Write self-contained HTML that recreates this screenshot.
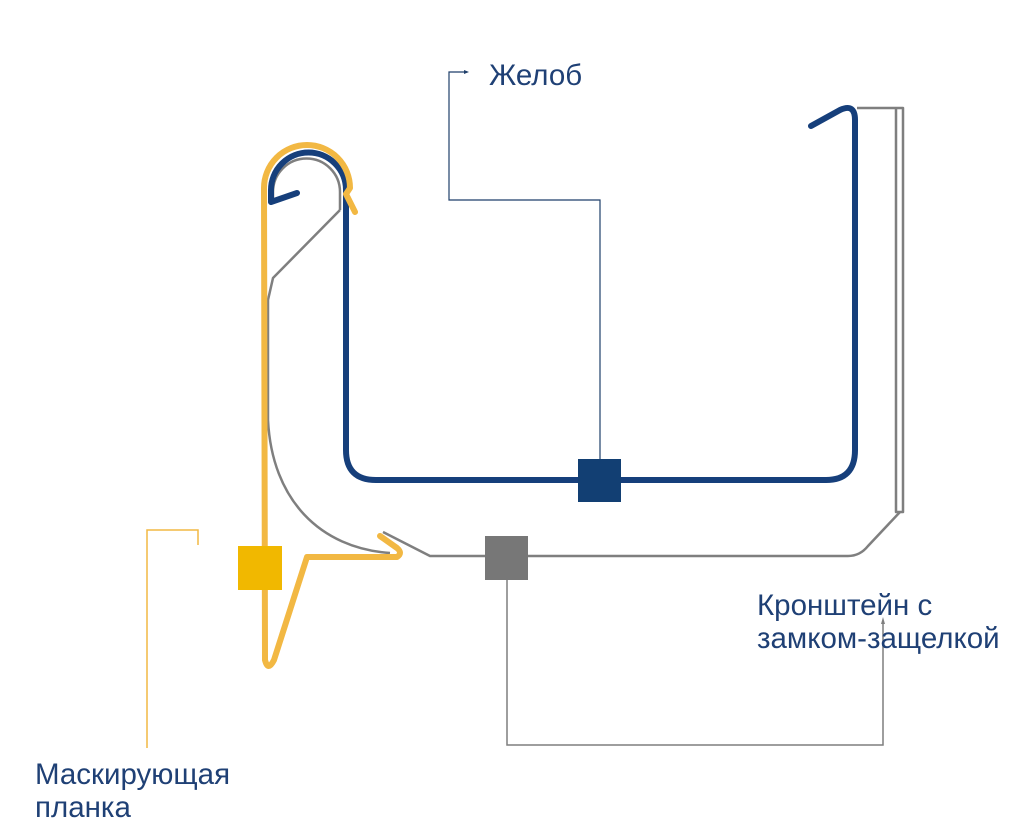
<!DOCTYPE html>
<html><head><meta charset="utf-8"><style>
html,body{margin:0;padding:0;background:#fff;}
svg{display:block;}
text{font-family:"Liberation Sans",sans-serif;fill:#1f4075;}
</style></head><body>
<svg width="1024" height="828" viewBox="0 0 1024 828" xmlns="http://www.w3.org/2000/svg">
<!-- gray bracket -->
<g fill="none" stroke="#7f7f7f" stroke-width="2.5" stroke-linejoin="round">
<path d="M340,210 L340,192 A33.5,33.5 0 0 0 273,192 L273,200"/>
<path d="M340,210 L273,278 L268,300 L268,420 C272,500 320,548 390,553"/>
<path d="M383,532 L430,556 L848,556 Q860,556 868,546 L900,512"/>
<path d="M857,108 L903,108 L903,512 L896,512 L896,108"/>
</g>
<!-- blue gutter -->
<path d="M297,193 L271,202 L271,190 A37.5,37.5 0 0 1 346,190 L346,450 Q346,480 376,480 L826,480 Q855,480 855,450 L855,120 Q855,103 840,110 L811,126" fill="none" stroke="#163f7b" stroke-width="6" stroke-linecap="round" stroke-linejoin="round"/>
<!-- yellow strip -->
<path d="M355,212 L346,194 L350,188 A43,43 0 0 0 264,188 L265,660 Q268,672 274,660 L307,557 L397,557 Q403,553 397,548 L380,536" fill="none" stroke="#f2b843" stroke-width="6" stroke-linecap="round" stroke-linejoin="round"/>
<!-- boxes -->
<rect x="238" y="546" width="44" height="44" fill="#f1b800"/>
<rect x="578" y="459" width="43" height="43" fill="#123f73"/>
<rect x="485" y="536" width="43" height="44" fill="#777"/>
<!-- connectors -->
<path d="M600,459 L600,200 L449,200 L449,72 L467,72" fill="none" stroke="#1f3f6a" stroke-width="1.2"/>
<path d="M464,70 L469,72 L464,74 Z" fill="#1f3f6a"/>
<path d="M507,580 L507,745 L883,745 L883,622" fill="none" stroke="#7f7f7f" stroke-width="1.5"/>
<path d="M881,624 L883,617 L885,624 Z" fill="#7f7f7f"/>
<path d="M198,545 L198,530 L147,530 L147,748" fill="none" stroke="#f2b843" stroke-width="1.5"/>
<!-- labels -->
<text x="489" y="85" font-size="29.5">Желоб</text>
<text x="757" y="615" font-size="29.5">Кронштейн с</text>
<text x="757" y="648" font-size="29.5">замком-защелкой</text>
<text x="35" y="784" font-size="29.5">Маскирующая</text>
<text x="35" y="817" font-size="29.5">планка</text>
</svg>
</body></html>
